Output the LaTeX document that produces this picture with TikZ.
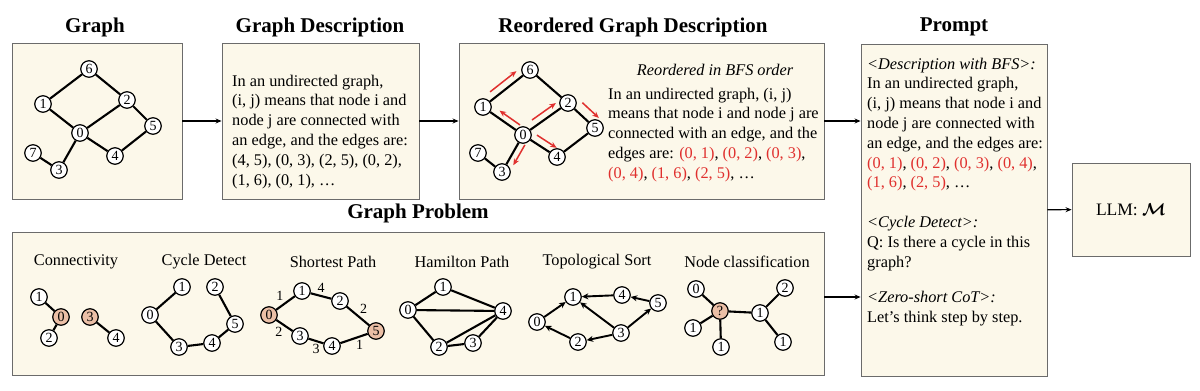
\documentclass[tikz,border=0pt]{standalone}
\usepackage{amsmath}
\usepackage{fontspec}
\setmainfont{Liberation Serif}
\usetikzlibrary{positioning,arrows.meta,calc}
\definecolor{crema}{HTML}{FCF8EA}
\definecolor{rojo}{HTML}{E0302E}
\definecolor{salmon}{HTML}{EBBFA6}
\definecolor{borde}{HTML}{6B6B6B}
\newcommand{\rd}[1]{\textcolor{rojo}{#1}}

\begin{document}
\begin{tikzpicture}[
  x=1pt, y=-1pt,
  font=\fontsize{16.3}{19.8}\selectfont,
  box/.style={rectangle, draw=borde, line width=0.9pt, fill=crema, inner sep=0pt},
  ttl/.style={font=\fontsize{21}{22}\selectfont\bfseries},
  ptl/.style={font=\fontsize{16.3}{17}\selectfont},
  txt/.style={align=left, inner sep=0pt, anchor=north west},
  v/.style={circle, draw, line width=1.2pt, fill=white, inner sep=0pt, minimum size=16.5pt, font=\fontsize{14}{14}\selectfont},
  hv/.style={v, fill=salmon},
  ed/.style={line width=2.1pt},
  wl/.style={inner sep=1pt, font=\fontsize{14}{14}\selectfont},
  fl/.style={-{Stealth[length=6pt, width=5pt]}, line width=1.1pt},
  dl/.style={-{Stealth[length=6.5pt, width=6pt]}, line width=1.9pt},
  bfs/.style={-{Stealth[length=6.5pt, width=5.5pt]}, draw=rojo, line width=1.5pt}
]
\useasboundingbox (0,0) rectangle (1200,391);

% boxes
\node[box, minimum width=170pt, minimum height=156pt] (g) at (97,121) {};
\node[box, minimum width=197pt, minimum height=156pt] (d) at (320.5,121) {};
\node[box, minimum width=365pt, minimum height=156pt] (r) at (641.5,121) {};
\node[box, minimum width=186pt, minimum height=332pt] (p) at (954,210) {};
\node[box, minimum width=118pt, minimum height=93pt, font=\fontsize{17.5}{20}\selectfont] (llm) at (1131,209.5) {LLM: $\boldsymbol{\mathcal{M}}$};
\node[box, minimum width=812pt, minimum height=143pt] (gp) at (418,303.5) {};

% titles
\node[ttl] at (95,27) {Graph};
\node[ttl] at (320,27) {Graph Description};
\node[ttl] at (633,27) {Reordered Graph Description};
\node[ttl] at (954,27) {Prompt};
\node[ttl] at (418,213) {Graph Problem};

% graph
\node[v] (g6) at (89,69) {6};
\node[v] (g1) at (43,104) {1};
\node[v] (g2) at (127,100) {2};
\node[v] (g0) at (80,133) {0};
\node[v] (g5) at (153,126) {5};
\node[v] (g4) at (115,156) {4};
\node[v] (g7) at (33,153) {7};
\node[v] (g3) at (59,170) {3};
\draw[ed] (g1)--(g6) (g6)--(g2) (g1)--(g0) (g0)--(g2) (g2)--(g5) (g5)--(g4) (g0)--(g4) (g0)--(g3) (g7)--(g3);

% description
\node[txt] (dtx) at (232,74.5) {In an undirected graph,\\ (i, j) means that node i and\\ node j are connected with\\ an edge, and the edges are:\\ (4, 5), (0, 3), (2, 5), (0, 2),\\ (1, 6), (0, 1), …};

% reordered graph
\node[v] (r6) at (530,70) {6};
\node[v] (r1) at (483,107) {1};
\node[v] (r2) at (568,103) {2};
\node[v] (r0) at (523,135) {0};
\node[v] (r5) at (595,128) {5};
\node[v] (r4) at (557,157) {4};
\node[v] (r7) at (478,153) {7};
\node[v] (r3) at (502,172) {3};
\draw[ed] (r1)--(r6) (r6)--(r2) (r1)--(r0) (r0)--(r2) (r2)--(r5) (r5)--(r4) (r0)--(r4) (r0)--(r3) (r7)--(r3);
\draw[bfs] ($(r1)!.25!(r6)!7.5pt!90:(r6)$) -- ($(r1)!.81!(r6)!7.5pt!90:(r6)$);
\draw[bfs] ($(r0)!.17!(r1)!6.5pt!-90:(r1)$) -- ($(r0)!.68!(r1)!6.5pt!-90:(r1)$);
\draw[bfs] ($(r0)!.29!(r2)!7pt!90:(r2)$) -- ($(r0)!.82!(r2)!7pt!90:(r2)$);
\draw[bfs] ($(r2)!.28!(r5)!10pt!90:(r5)$) -- ($(r2)!.89!(r5)!10pt!90:(r5)$);
\draw[bfs] ($(r0)!.29!(r4)!7.5pt!90:(r4)$) -- ($(r0)!.87!(r4)!7.5pt!90:(r4)$);
\draw[bfs] ($(r0)!.18!(r3)!6.5pt!90:(r3)$) -- ($(r0)!.73!(r3)!6.5pt!90:(r3)$);
\node (bfo) at (715,70) {\itshape Reordered in BFS order};
\node[txt] (rtx) at (608,87.5) {In an undirected graph, (i, j)\\ means that node i and node j are\\ connected with an edge, and the\\ edges are: \rd{(0, 1)}, \rd{(0, 2)}, \rd{(0, 3)},\\ \rd{(0, 4)}, \rd{(1, 6)}, \rd{(2, 5)}, …};

% prompt
\node[txt] (ptx) at (867,57.5) {\textit{<Description with BFS>:}\\ In an undirected graph,\\ (i, j) means that node i and\\ node j are connected with\\ an edge, and the edges are:\\ \rd{(0, 1)}, \rd{(0, 2)}, \rd{(0, 3)}, \rd{(0, 4)},\\ \rd{(1, 6)}, \rd{(2, 5)}, …\\[19.8pt] \textit{<Cycle Detect>:}\\ Q: Is there a cycle in this\\ graph?\\[16pt] \textit{<Zero-short CoT>:}\\ Let’s think step by step.};

% problems
\node[ptl] at (76,262) {Connectivity};
\node[ptl] at (204,262) {Cycle Detect};
\node[ptl] at (333,262) {Shortest Path};
\node[ptl] at (462,262) {Hamilton Path};
\node[ptl] at (597,262) {Topological Sort};
\node[ptl] at (747,262) {Node classification};

\node[v] (c1) at (39,297) {1};
\node[hv] (c0) at (61,317) {0};
\node[v] (c2) at (49,338) {2};
\node[hv] (c3) at (90,317) {3};
\node[v] (c4) at (116,338) {4};
\draw[ed] (c1)--(c0) (c0)--(c2) (c3)--(c4);

\node[v] (y0) at (150,315) {0};
\node[v] (y1) at (182,287) {1};
\node[v] (y2) at (215,287) {2};
\node[v] (y5) at (235,324) {5};
\node[v] (y4) at (212,343) {4};
\node[v] (y3) at (179,347) {3};
\draw[ed] (y0)--(y1) (y0)--(y3) (y3)--(y4) (y4)--(y5) (y5)--(y2);

\node[hv] (s0) at (269,315) {0};
\node[v] (s1) at (302,291) {1};
\node[v] (s2) at (340,301) {2};
\node[hv] (s5) at (376,331) {5};
\node[v] (s4) at (332,346) {4};
\node[v] (s3) at (300,336) {3};
\draw[ed] (s0) -- node[wl, above left] {1} (s1);
\draw[ed] (s1) -- node[wl, above=1pt] {4} (s2);
\draw[ed] (s2) -- node[wl, above right] {2} (s5);
\draw[ed] (s0) -- node[wl, below left] {2} (s3);
\draw[ed] (s3) -- node[wl, below=1pt] {3} (s4);
\draw[ed] (s4) -- node[wl, below right] {1} (s5);

\node[v] (h0) at (408,310) {0};
\node[v] (h1) at (443,287) {1};
\node[v] (h4) at (503,311) {4};
\node[v] (h2) at (439,347) {2};
\node[v] (h3) at (473,343) {3};
\draw[ed] (h0)--(h1) (h1)--(h4) (h0)--(h4) (h0)--(h2) (h2)--(h4) (h2)--(h3) (h3)--(h4);

\node[v] (t0) at (537,322) {0};
\node[v] (t1) at (573,297) {1};
\node[v] (t4) at (622,295) {4};
\node[v] (t5) at (658,303) {5};
\node[v] (t3) at (621,333) {3};
\node[v] (t2) at (578,342) {2};
\draw[dl] (t0)--(t1);
\draw[dl] (t4)--(t1);
\draw[dl] (t5)--(t4);
\draw[dl] (t3)--(t5);
\draw[dl] (t3)--(t1);
\draw[dl] (t3)--(t2);
\draw[dl] (t2)--(t0);

\node[v] (n0) at (696,289) {0};
\node[hv] (nq) at (720,311) {?};
\node[v] (na) at (693,328) {1};
\node[v] (nb) at (721,347) {1};
\node[v] (nc) at (760,313) {1};
\node[v] (n2) at (785,288) {2};
\node[v] (nd) at (783,342) {1};
\draw[ed] (n0)--(nq) (nq)--(na) (nq)--(nb) (nq)--(nc) (nc)--(n2) (nc)--(nd);

% connectors
\draw[fl] (g) -- (d);
\draw[fl] (d) -- (r);
\draw[fl] (r.east) -- (r.east -| p.west);
\draw[fl] (p) -- (llm);
\coordinate (q) at ([yshift=6.5pt]gp.east);
\draw[fl] (q) -- (q -| p.west);
\end{tikzpicture}
\end{document}
